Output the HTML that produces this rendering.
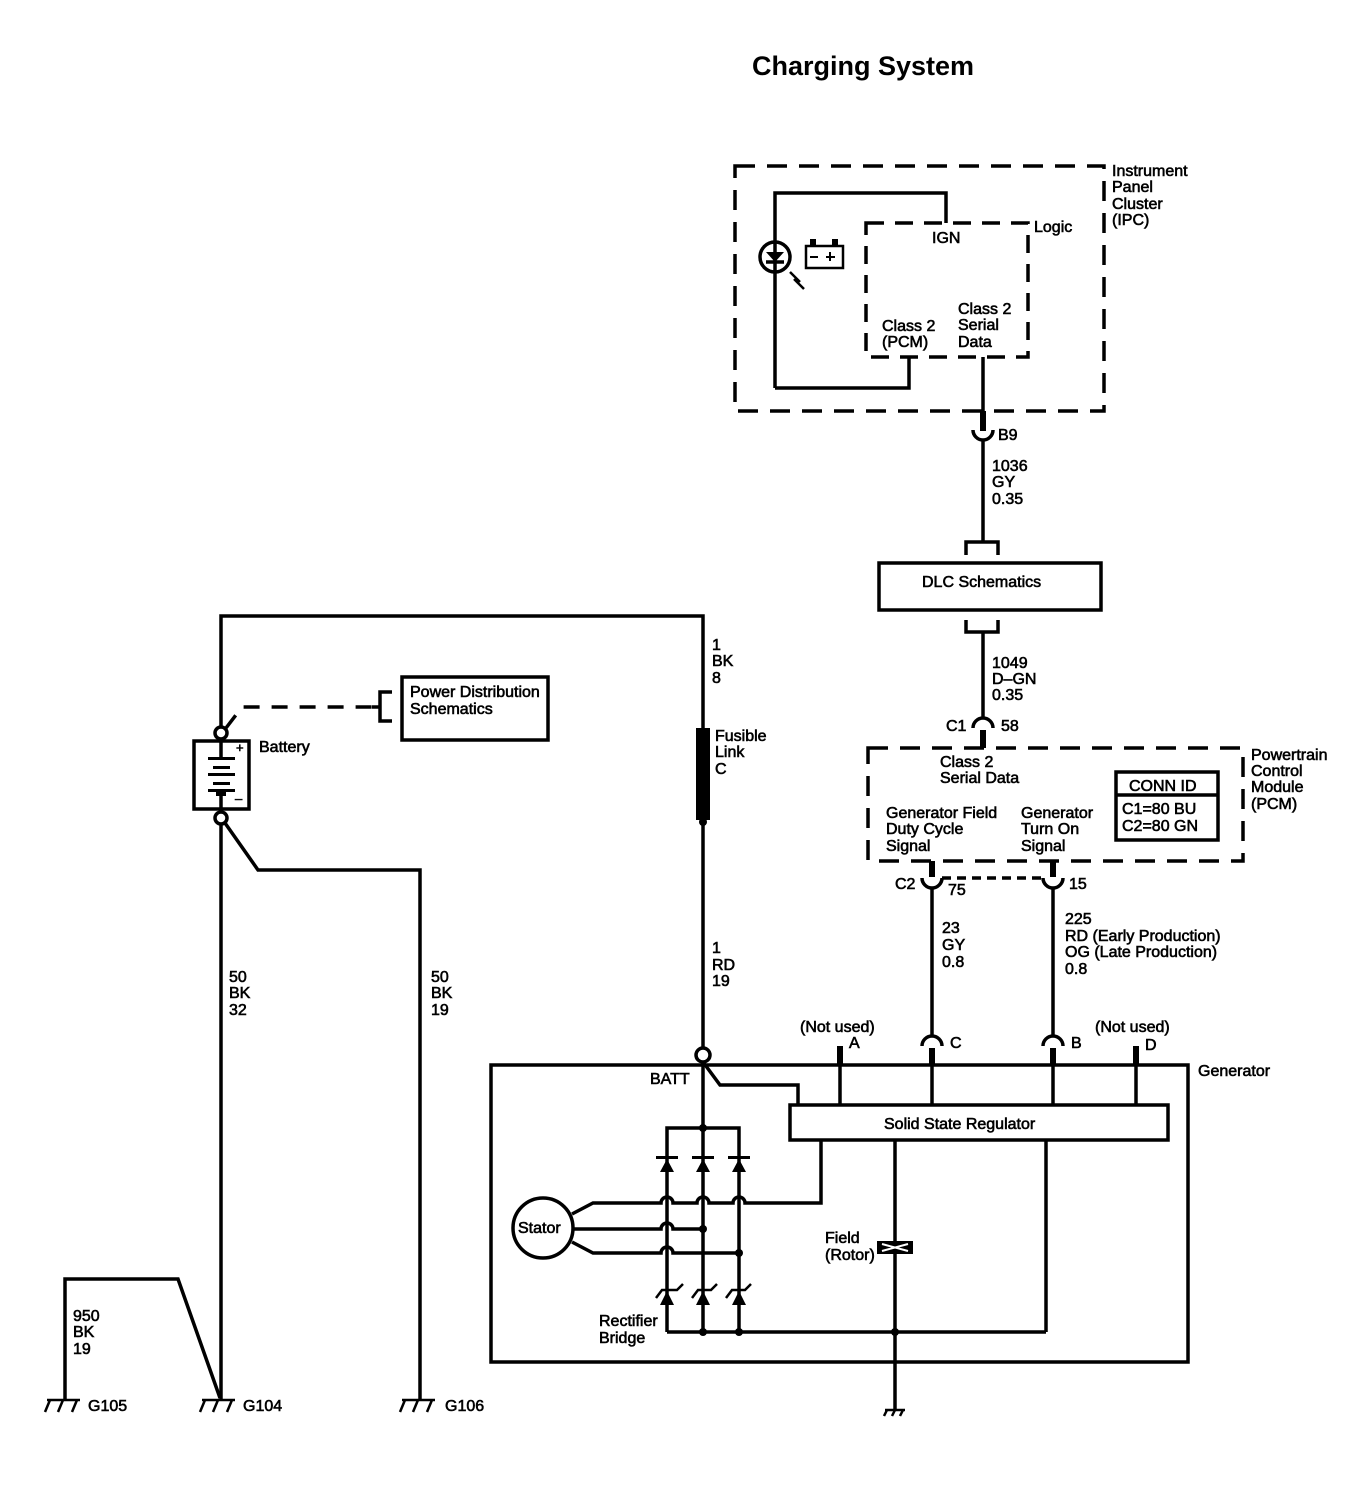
<!DOCTYPE html>
<html><head><meta charset="utf-8"><style>
html,body{margin:0;padding:0;background:#fff;}
svg{display:block;}
text{font-family:"Liberation Sans",Arial,sans-serif;font-size:16px;fill:#000;}
.t{stroke:#000;stroke-width:0.6px;}
</style></head><body>
<svg width="1356" height="1504" viewBox="0 0 1356 1504" xmlns="http://www.w3.org/2000/svg">
<g fill="none" stroke="#000" stroke-width="3.5">
<!-- IPC -->
<rect x="735" y="166" width="369" height="245" stroke-dasharray="20 12"/>
<rect x="866" y="223" width="162" height="134" stroke-dasharray="18 11"/>
<polyline points="775,388 775,193 946,193 946,223"/>
<polyline points="909,357 909,388 775,388"/>
<line x1="983" y1="357" x2="983" y2="428"/>
<circle cx="775" cy="257" r="15"/>
<line x1="766" y1="262" x2="784" y2="262"/>
<rect x="806" y="246" width="37" height="22" stroke-width="2.5"/>
<!-- B9 -->
<path d="M973 430 A10 10 0 0 0 993 430"/>
<line x1="983" y1="440" x2="983" y2="542"/>
<polyline points="966,555 966,542 998,542 998,555"/>
<rect x="879" y="563" width="222" height="47"/>
<polyline points="966,620 966,632 998,632 998,620"/>
<line x1="983" y1="632" x2="983" y2="718"/>
<path d="M973 728 A10 10 0 0 1 993 728"/>
<!-- PCM -->
<rect x="868" y="748" width="375" height="113" stroke-dasharray="20 12"/>
<rect x="1116" y="772" width="102" height="68"/>
<line x1="1116" y1="795" x2="1218" y2="795"/>
<line x1="942" y1="878" x2="1043" y2="878" stroke-dasharray="9 6"/>
<path d="M922 878 A10 10 0 0 0 942 878"/>
<path d="M1043 878 A10 10 0 0 0 1063 878"/>
<line x1="932" y1="888" x2="932" y2="1036"/>
<line x1="1053" y1="888" x2="1053" y2="1036"/>
<path d="M922 1046 A10 10 0 0 1 942 1046"/>
<path d="M1043 1046 A10 10 0 0 1 1063 1046"/>
<!-- Generator -->
<rect x="491" y="1065" width="697" height="297"/>
<rect x="790" y="1105" width="378" height="35"/>
<line x1="932" y1="1050" x2="932" y2="1105"/>
<line x1="1053" y1="1050" x2="1053" y2="1105"/>
<line x1="840" y1="1065" x2="840" y2="1105"/>
<line x1="1136" y1="1065" x2="1136" y2="1105"/>
<polyline points="703,1062 720,1085 798,1085 798,1105"/>
<line x1="703" y1="1062" x2="703" y2="1332"/>
<polyline points="667,1332 667,1128 739,1128 739,1332"/>
<line x1="667" y1="1332" x2="1046" y2="1332"/>
<line x1="1046" y1="1140" x2="1046" y2="1332"/>
<line x1="895" y1="1140" x2="895" y2="1410"/>
<circle cx="543" cy="1228" r="30"/>
<path d="M572 1214 L593 1203 L661 1203 A6 6 0 0 1 673 1203 L697 1203 A6 6 0 0 1 709 1203 L733 1203 A6 6 0 0 1 745 1203 L821 1203 L821 1140"/>
<path d="M573 1229 L661 1229 A6 6 0 0 1 673 1229 L703 1229"/>
<path d="M572 1242 L593 1253 L661 1253 A6 6 0 0 1 673 1253 L739 1253"/>
<!-- top wiring -->
<polyline points="221,727 221,616 703,616 703,730"/>
<line x1="703" y1="820" x2="703" y2="1048"/>
<circle cx="703" cy="1055" r="7"/>
<circle cx="221" cy="733" r="6"/>
<circle cx="221" cy="818" r="6"/>
<rect x="194" y="741" width="55" height="68"/>
<line x1="221" y1="741" x2="221" y2="757"/>
<line x1="221" y1="795" x2="221" y2="809"/>
<line x1="221" y1="824" x2="221" y2="1400"/>
<polyline points="225,823 258,870 420,870 420,1400"/>
<polyline points="226,728 242,707 372,707" stroke-dasharray="16 12"/>
<polyline points="392,692 380,692 380,721 392,721"/>
<line x1="372" y1="707" x2="380" y2="707"/>
<rect x="402" y="677" width="146" height="63"/>
<polyline points="65,1400 65,1279 178,1279 220,1398"/>
<!-- grounds -->
<g stroke-width="2.5">
<line x1="47" y1="1400" x2="80" y2="1400"/><line x1="50" y1="1400" x2="45" y2="1412"/><line x1="63" y1="1400" x2="58" y2="1412"/><line x1="77" y1="1400" x2="72" y2="1412"/>
<line x1="202" y1="1400" x2="235" y2="1400"/><line x1="205" y1="1400" x2="200" y2="1412"/><line x1="218" y1="1400" x2="213" y2="1412"/><line x1="232" y1="1400" x2="227" y2="1412"/>
<line x1="402" y1="1400" x2="435" y2="1400"/><line x1="405" y1="1400" x2="400" y2="1412"/><line x1="418" y1="1400" x2="413" y2="1412"/><line x1="432" y1="1400" x2="427" y2="1412"/>
<line x1="885" y1="1410" x2="905" y2="1410"/><line x1="887" y1="1410" x2="884" y2="1416"/><line x1="895" y1="1410" x2="892" y2="1416"/><line x1="903" y1="1410" x2="900" y2="1416"/>
</g>
</g>
<g fill="#000" stroke="none">
<rect x="208" y="757" width="27" height="3"/><rect x="213" y="766" width="17" height="3"/><rect x="208" y="773" width="27" height="3"/><rect x="213" y="782" width="17" height="3"/><rect x="208" y="789" width="27" height="3"/>
<rect x="216" y="792" width="10" height="4"/>
<polygon points="766,252 784,252 775,262"/>
<rect x="810" y="239" width="6" height="7"/><rect x="832" y="239" width="6" height="7"/>
<rect x="810" y="256" width="8" height="2"/><rect x="826" y="256" width="9" height="2"/><rect x="829" y="252" width="2" height="9"/>
<rect x="980" y="411" width="6" height="20"/>
<rect x="980" y="730" width="6" height="18"/>
<rect x="929" y="861" width="6" height="16"/>
<rect x="1050" y="861" width="6" height="16"/>
<rect x="837" y="1046" width="6" height="20"/>
<rect x="1133" y="1046" width="6" height="20"/>
<rect x="929" y="1048" width="6" height="17"/>
<rect x="1050" y="1048" width="6" height="17"/>
<rect x="696" y="728" width="14" height="92"/>
<circle cx="703" cy="822" r="4"/>
<rect x="656" y="1156" width="22" height="3"/><rect x="692" y="1156" width="22" height="3"/><rect x="728" y="1156" width="22" height="3"/>
<polygon points="660,1172 674,1172 667,1159"/><polygon points="696,1172 710,1172 703,1159"/><polygon points="732,1172 746,1172 739,1159"/>
<polygon points="660,1305 674,1305 667,1291"/><polygon points="696,1305 710,1305 703,1291"/><polygon points="732,1305 746,1305 739,1291"/>
<circle cx="703" cy="1128" r="4"/><circle cx="703" cy="1229" r="4"/><circle cx="739" cy="1253" r="4"/>
<circle cx="703" cy="1332" r="4"/><circle cx="739" cy="1332" r="4"/><circle cx="895" cy="1332" r="4"/>
<rect x="877" y="1241" width="36" height="13"/>
</g>
<g stroke="#000" stroke-width="2.5" fill="none">
<polyline points="656,1298 662,1290 677,1290 683,1284"/>
<polyline points="692,1298 698,1290 711,1290 717,1284"/>
<polyline points="726,1298 732,1290 745,1290 751,1284"/>
<line x1="790" y1="272" x2="800" y2="282"/><line x1="794" y1="279" x2="804" y2="289"/>
<path d="M882 1244 L908 1251 M882 1251 L908 1244" stroke="#fff" stroke-width="2"/>
</g>
<g class="t">
<text x="752" y="75" style="font-size:27px;font-weight:bold;stroke:none">Charging System</text>
<text x="1112" y="176">Instrument</text><text x="1112" y="192">Panel</text><text x="1112" y="209">Cluster</text><text x="1112" y="225">(IPC)</text>
<text x="1034" y="232">Logic</text>
<text x="932" y="243">IGN</text>
<text x="882" y="331">Class 2</text><text x="882" y="347">(PCM)</text>
<text x="958" y="314">Class 2</text><text x="958" y="330">Serial</text><text x="958" y="347">Data</text>
<text x="998" y="440">B9</text>
<text x="992" y="471">1036</text><text x="992" y="487">GY</text><text x="992" y="504">0.35</text>
<text x="922" y="587">DLC Schematics</text>
<text x="992" y="668">1049</text><text x="992" y="684">D–GN</text><text x="992" y="700">0.35</text>
<text x="946" y="731">C1</text><text x="1001" y="731">58</text>
<text x="1251" y="760">Powertrain</text><text x="1251" y="776">Control</text><text x="1251" y="792">Module</text><text x="1251" y="809">(PCM)</text>
<text x="940" y="767">Class 2</text><text x="940" y="783">Serial Data</text>
<text x="886" y="818">Generator Field</text><text x="886" y="834">Duty Cycle</text><text x="886" y="851">Signal</text>
<text x="1021" y="818">Generator</text><text x="1021" y="834">Turn On</text><text x="1021" y="851">Signal</text>
<text x="1129" y="791">CONN ID</text><text x="1122" y="814">C1=80 BU</text><text x="1122" y="831">C2=80 GN</text>
<text x="895" y="889">C2</text><text x="948" y="895">75</text><text x="1069" y="889">15</text>
<text x="942" y="933">23</text><text x="942" y="950">GY</text><text x="942" y="967">0.8</text>
<text x="1065" y="924">225</text><text x="1065" y="941">RD (Early Production)</text><text x="1065" y="957">OG (Late Production)</text><text x="1065" y="974">0.8</text>
<text x="800" y="1032">(Not used)</text><text x="849" y="1048">A</text>
<text x="950" y="1048">C</text><text x="1071" y="1048">B</text>
<text x="1095" y="1032">(Not used)</text><text x="1145" y="1050">D</text>
<text x="1198" y="1076">Generator</text>
<text x="650" y="1084">BATT</text>
<text x="518" y="1233">Stator</text>
<text x="825" y="1243">Field</text><text x="825" y="1260">(Rotor)</text>
<text x="599" y="1326">Rectifier</text><text x="599" y="1343">Bridge</text>
<text x="884" y="1129">Solid State Regulator</text>
<text x="712" y="650">1</text><text x="712" y="666">BK</text><text x="712" y="683">8</text>
<text x="715" y="741">Fusible</text><text x="715" y="757">Link</text><text x="715" y="774">C</text>
<text x="712" y="953">1</text><text x="712" y="970">RD</text><text x="712" y="986">19</text>
<text x="410" y="697">Power Distribution</text><text x="410" y="714">Schematics</text>
<text x="259" y="752">Battery</text>
<text x="236" y="752" style="font-size:13px">+</text><text x="235" y="803" style="font-size:13px">–</text>
<text x="229" y="982">50</text><text x="229" y="998">BK</text><text x="229" y="1015">32</text>
<text x="431" y="982">50</text><text x="431" y="998">BK</text><text x="431" y="1015">19</text>
<text x="73" y="1321">950</text><text x="73" y="1337">BK</text><text x="73" y="1354">19</text>
<text x="88" y="1411">G105</text><text x="243" y="1411">G104</text><text x="445" y="1411">G106</text>
</g>
</svg>
</body></html>
